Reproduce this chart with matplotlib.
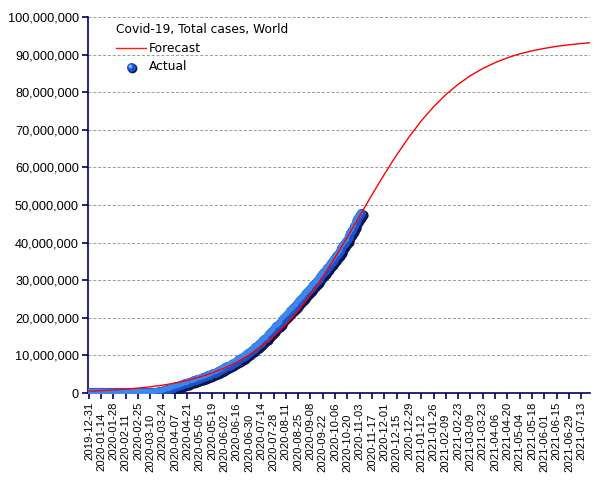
import matplotlib
matplotlib.use("Agg")
import matplotlib.pyplot as plt
import matplotlib.transforms as mtransforms
from matplotlib.lines import Line2D
import datetime as dt

# ---------------- data ----------------
start_date = "2019-12-31"

# Forecast (millions), every 14 days from 2019-12-31, last point at day 570
forecast_days = [0, 14, 28, 42, 56, 70, 84, 98, 112, 126, 140, 154, 168, 182, 196,
                 210, 224, 238, 252, 266, 280, 294, 308, 322, 336, 350, 364, 378,
                 392, 406, 420, 434, 448, 462, 476, 490, 504, 518, 532, 546, 560, 570]
forecast_millions = [0.48, 0.62, 0.80, 1.02, 1.30, 1.65, 2.08, 2.65, 3.35, 4.25, 5.30,
                     6.60, 8.15, 10.05, 12.35, 15.05, 18.20, 21.90, 26.10, 30.85,
                     36.00, 41.50, 47.10, 52.70, 58.15, 63.30, 68.05, 72.35, 76.10,
                     79.35, 82.10, 84.40, 86.30, 87.85, 89.15, 90.20, 91.00, 91.65,
                     92.20, 92.60, 92.95, 93.15]

# Actual (millions), every 2 days from 2019-12-31
actual_millions = [
    0.00003, 0.00004, 0.00004, 0.00006, 0.00006, 0.00006, 0.00006, 0.00006, 0.00006,
    0.0001, 0.0002, 0.0006, 0.0009, 0.0020, 0.0045, 0.0082, 0.0120, 0.0200, 0.0282,
    0.0344, 0.0401, 0.0451, 0.0603, 0.0690, 0.0732, 0.0755, 0.0772, 0.0789, 0.0806,
    0.0830, 0.0866, 0.0900, 0.0950, 0.1020, 0.1090, 0.1170, 0.1280, 0.1520, 0.1830,
    0.2170, 0.2720, 0.3370, 0.4180, 0.5320, 0.6600, 0.7800, 0.9300, 1.0950, 1.2700,
    1.4300, 1.6000, 1.7600, 1.9100, 2.0600, 2.2400, 2.3900, 2.5400, 2.7000, 2.8700,
    3.0100, 3.1800, 3.3500, 3.5000, 3.6600, 3.8400, 4.0100, 4.1700, 4.3300, 4.5100,
    4.7000, 4.8800, 5.0800, 5.2900, 5.4800, 5.6900, 5.9000, 6.1500, 6.4000, 6.6500,
    6.9000, 7.1500, 7.4000, 7.6800, 7.9500, 8.2000, 8.5000, 8.8000, 9.1000, 9.4300,
    9.7700, 10.1000, 10.4600, 10.8300, 11.2000, 11.5600, 11.9500, 12.3500, 12.7500,
    13.1800, 13.6500, 14.1000, 14.5300, 15.0000, 15.5000, 16.0000, 16.5000, 17.0500,
    17.5500, 18.0000, 18.5300, 19.1000, 19.6500, 20.1500, 20.6800, 21.2500, 21.7300,
    22.2000, 22.7500, 23.2500, 23.7500, 24.3000, 24.8300, 25.3500, 25.9000, 26.4500,
    26.9500, 27.4000, 27.9300, 28.5000, 29.0000, 29.6000, 30.2000, 30.8000, 31.4000,
    32.0000, 32.6000, 33.1300, 33.7000, 34.3000, 34.9000, 35.5000, 36.2000, 36.8500,
    37.5500, 38.3000, 39.1000, 39.8500, 40.6000, 41.4500, 42.3500, 43.2000, 44.1500,
    45.2000, 46.1000, 46.9000, 47.6000]
actual_step_days = 2

tick_step_days = 14
n_ticks = 41
yticks_values = [0, 10, 20, 30, 40, 50, 60, 70, 80, 90, 100]  # millions

title_text = "Covid-19, Total cases, World"
label_forecast = "Forecast"
label_actual = "Actual"

# ---------------- plot ----------------
W, H = 605, 480
plt.rcParams['font.family'] = ['DejaVu Sans']
fig = plt.figure(figsize=(W / 100, H / 100), dpi=100)
ax = fig.add_axes([88/W, 1-393/H, (590-88)/W, (393-17)/H])

d0 = dt.datetime.strptime(start_date, "%Y-%m-%d")
f_dates = [d0 + dt.timedelta(days=d) for d in forecast_days]
f_vals = [v * 1e6 for v in forecast_millions]
a_dates = [d0 + dt.timedelta(days=i * actual_step_days) for i in range(len(actual_millions))]
a_vals = [v * 1e6 for v in actual_millions]

navy = "#000060"

# sphere-like markers: dark base, blue body, lighter top-left
def off(dx, dy):
    return mtransforms.offset_copy(ax.transData, fig=fig, x=dx, y=dy, units='dots')

ax.plot(a_dates, a_vals, 'o', ms=7.4, color="#0a1450", mec='none', zorder=3,
        transform=off(1.2, -1.2))
ax.plot(a_dates, a_vals, 'o', ms=6.6, color="#1a52c8", mec='none', zorder=4,
        transform=off(-0.6, 0.6))
ax.plot(a_dates, a_vals, 'o', ms=4.0, color="#3c86ee", mec='none', zorder=5,
        transform=off(-1.8, 1.8))

ax.plot(f_dates, f_vals, '-', color="#ff0000", lw=1.0, zorder=6)

ax.set_ylim(0, 100e6)
ax.set_xlim(d0 - dt.timedelta(days=1), d0 + dt.timedelta(days=570))
ax.set_yticks([v * 1e6 for v in yticks_values])
ax.set_yticklabels([f"{int(v*1e6):,}" for v in yticks_values],
                   fontfamily='Liberation Sans', fontsize=9.2)
xt = [d0 + dt.timedelta(days=tick_step_days * i) for i in range(n_ticks)]
ax.set_xticks(xt)
ax.set_xticklabels([t.strftime("%Y-%m-%d") for t in xt], rotation=90,
                   fontfamily='Liberation Sans', fontsize=8.1)

ax.grid(axis='y', color="#999999", linestyle=(0, (3, 2)), linewidth=0.7)
ax.set_axisbelow(True)
for s in ['top', 'right']:
    ax.spines[s].set_visible(False)
for s in ['left', 'bottom']:
    ax.spines[s].set_color(navy)
    ax.spines[s].set_linewidth(1.2)
ax.tick_params(axis='both', colors=navy, labelcolor='black',
               length=4, width=1.2, direction='out', pad=2.5)
for i, tk in enumerate(ax.xaxis.get_major_ticks()):
    tk.set_pad(2.5 if i % 2 == 0 else 10.5)

# legend (manual placement)
def px(x, y):
    return x / W, 1 - y / H

fig.text(*px(116, 29), title_text, fontsize=8.8, va='center', ha='left')
fig.add_artist(Line2D([116/W, 146/W], [1-48/H, 1-48/H], color="#ff2000", lw=1.0))
fig.text(*px(149, 48), label_forecast, fontsize=8.8, va='center', ha='left')
fig.add_artist(Line2D([131.6/W], [1-67.6/H], marker='o', ms=7, color="#0a1450", mec='none'))
fig.add_artist(Line2D([130.6/W], [1-66.6/H], marker='o', ms=6.4, color="#1a52c8", mec='none'))
fig.add_artist(Line2D([129.8/W], [1-65.8/H], marker='o', ms=2.8, color="#7ab4ff", mec='none'))
fig.text(*px(149, 67), label_actual, fontsize=8.8, va='center', ha='left')

fig.savefig("out.png", dpi=100)
